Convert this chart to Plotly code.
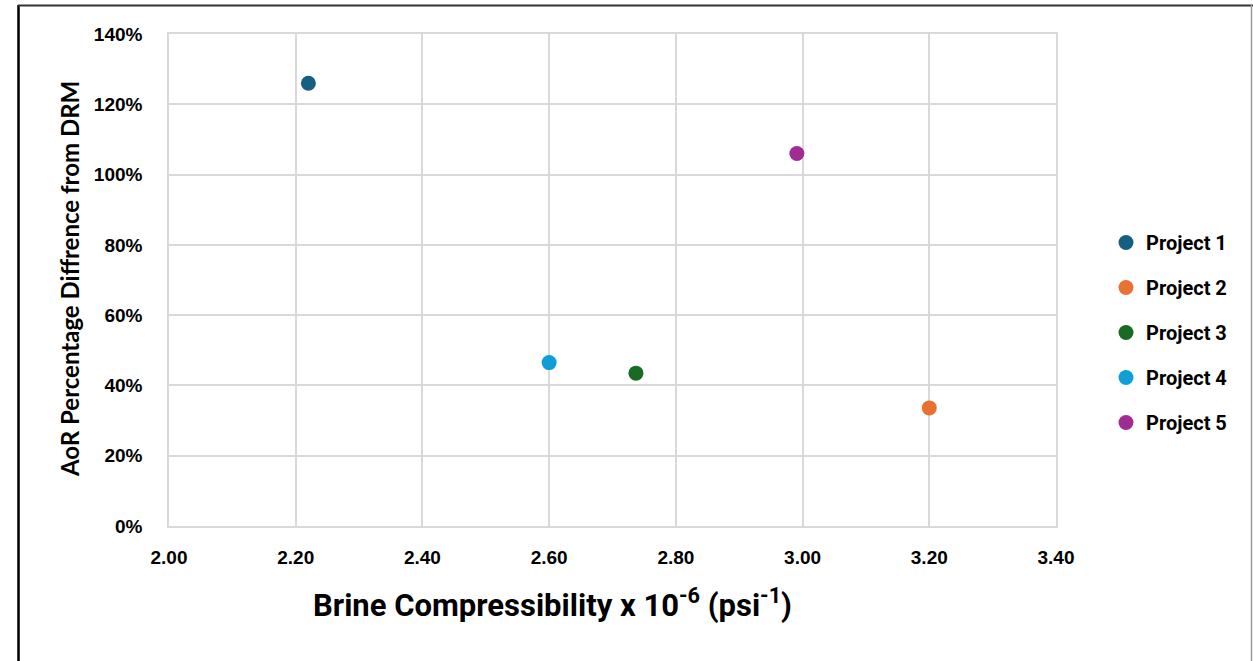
import plotly.graph_objects as go

projects = ["Project 1", "Project 2", "Project 3", "Project 4", "Project 5"]
compressibility = [2.22, 3.20, 2.737, 2.60, 2.991]
aor_diff = [1.26, 0.336, 0.435, 0.465, 1.06]
colors = ["#156082", "#E97132", "#196B24", "#0F9ED5", "#A02B93"]

x_ticks = [2.0, 2.2, 2.4, 2.6, 2.8, 3.0, 3.2, 3.4]
y_ticks = [0, 0.2, 0.4, 0.6, 0.8, 1.0, 1.2, 1.4]

W, H = 1253, 661
L, R, T, B = 169, 1253 - 1056, 34, 661 - 526
pw, ph = W - L - R, H - T - B

fig = go.Figure()
for i, name in enumerate(projects):
    fig.add_trace(go.Scatter(
        x=[compressibility[i]], y=[aor_diff[i]], mode="markers", name=name,
        legendgroup=name,
        marker=dict(size=15, color=colors[i]),
    ))

tick_font = dict(family="Liberation Sans, Arial", size=19, color="#000000", weight="bold")
grid = "#d9d9d9"
narrow = "Roboto, Liberation Sans"

fig.update_layout(
    width=W, height=H,
    margin=dict(l=L, r=R, t=T, b=B, autoexpand=False),
    paper_bgcolor="white", plot_bgcolor="white",
    showlegend=True,
    legend=dict(
        x=(1106 - L) / pw, y=(526 - 223) / ph, xanchor="left", yanchor="top",
        font=dict(family=narrow, size=20, color="#000000", weight="bold"),
        tracegroupgap=16, itemwidth=30, bgcolor="rgba(0,0,0,0)",
        itemclick=False,
    ),
    xaxis=dict(
        range=[2.0, 3.4], tickvals=x_ticks, ticktext=[f"{v:.2f}" for v in x_ticks],
        showgrid=True, gridcolor=grid, gridwidth=1.5,
        showline=True, linecolor=grid, linewidth=1.5, mirror=True,
        zeroline=False, tickfont=tick_font, ticks="", ticklabelstandoff=13,
        fixedrange=True,
    ),
    yaxis=dict(
        range=[0, 1.4], tickvals=y_ticks, ticktext=[f"{int(round(v*100))}%" for v in y_ticks],
        showgrid=True, gridcolor=grid, gridwidth=1.5,
        showline=True, linecolor=grid, linewidth=1.5, mirror=True,
        zeroline=False, tickfont=tick_font, ticks="", ticklabelstandoff=21,
        fixedrange=True,
    ),
    annotations=[
        dict(
            text="AoR Percentage Diffrence from DRM", textangle=-90,
            xref="paper", yref="paper", x=(69 - L) / pw, y=(526 - 279) / ph,
            xanchor="center", yanchor="middle", showarrow=False,
            font=dict(family="Lato, Noto Sans", size=24, color="#000000", weight="bold"),
        ),
        dict(
            text="Brine Compressibility x 10<sup>-6</sup> (psi<sup>-1</sup>)",
            xref="paper", yref="paper", x=(552 - L) / pw, y=(526 - 603) / ph,
            xanchor="center", yanchor="middle", showarrow=False,
            font=dict(family=narrow, size=31, color="#000000", weight="bold"),
        ),
    ],
    shapes=[
        dict(type="line", xref="paper", yref="paper",
             x0=(18.5 - L) / pw, x1=(18.5 - L) / pw, y0=(526 - 5) / ph, y1=(526 - 700) / ph,
             line=dict(color="#000000", width=2.5)),
        dict(type="line", xref="paper", yref="paper",
             x0=(18 - L) / pw, x1=(1253 - L) / pw, y0=(526 - 5.5) / ph, y1=(526 - 5.5) / ph,
             line=dict(color="#333333", width=2)),
        dict(type="line", xref="paper", yref="paper",
             x0=(1251.5 - L) / pw, x1=(1251.5 - L) / pw, y0=(526 - 5) / ph, y1=(526 - 700) / ph,
             line=dict(color="#999999", width=1.5)),
    ],
)

fig.write_html("out.html")
